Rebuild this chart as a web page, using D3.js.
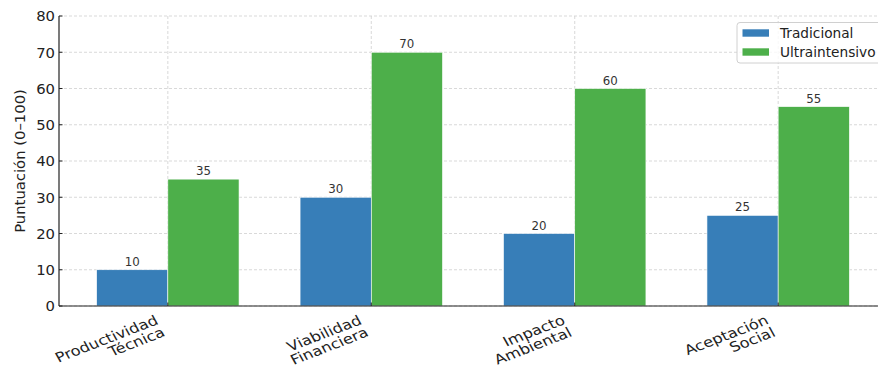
<!DOCTYPE html>
<html><head><meta charset="utf-8">
<script src="https://cdn.jsdelivr.net/npm/d3@7"></script>
<style>body{margin:0;background:#fff}svg{display:block}text{font-family:"DejaVu Sans",sans-serif}</style>
</head><body><svg id="c" width="878" height="367"></svg>
<script>
const categories = ["Productividad\nTécnica","Viabilidad\nFinanciera","Impacto\nAmbiental","Aceptación\nSocial"];
const seriesNames = ["Tradicional","Ultraintensivo"];
const tradicional = [10,30,20,25];
const ultraintensivo = [35,70,60,55];
const yTicks = [0,10,20,30,40,50,60,70,80];
const colors = ["#377eb8","#4daf4a"];
const yLabel = "Puntuación (0–100)";

const svg = d3.select("#c");
const L=59, R=887, T=16, B=306;
const x = d3.scaleLinear().domain([-0.535,3.535]).range([L,R]);
const y = d3.scaleLinear().domain([0,80]).range([B,T]);
const bw = x(0.35)-x(0);

// grid
const g = svg.append("g");
g.selectAll("line.h").data(yTicks).join("line")
 .attr("x1",L).attr("x2",R).attr("y1",d=>y(d)).attr("y2",d=>y(d))
 .attr("stroke","#cfcfcf").attr("stroke-width",0.8).attr("stroke-dasharray","3,2");
g.selectAll("line.v").data(categories).join("line")
 .attr("x1",(d,i)=>x(i)).attr("x2",(d,i)=>x(i)).attr("y1",T).attr("y2",B)
 .attr("stroke","#cfcfcf").attr("stroke-width",0.8).attr("stroke-dasharray","3,2");

// bars
const series=[tradicional,ultraintensivo];
series.forEach((vals,s)=>{
  const off = s===0 ? -0.35 : 0;
  svg.append("g").selectAll("rect").data(vals).join("rect")
   .attr("x",(d,i)=>x(i+off)).attr("width",bw)
   .attr("y",d=>y(d)).attr("height",d=>y(0)-y(d))
   .attr("fill",colors[s]).attr("stroke","#ffffff").attr("stroke-width",0.6);
  svg.append("g").selectAll("text").data(vals).join("text")
   .attr("x",(d,i)=>x(i+off)+bw/2).attr("y",d=>y(d)-4)
   .attr("text-anchor","middle").attr("font-size",11.8).attr("fill","#333")
   .text(d=>d);
});

// spines
svg.append("line").attr("x1",L).attr("x2",L).attr("y1",T).attr("y2",B).attr("stroke","#222").attr("stroke-width",1.2);
svg.append("line").attr("x1",L).attr("x2",R).attr("y1",B).attr("y2",B).attr("stroke","#222").attr("stroke-width",1.2);

// y ticks
const yt = svg.append("g");
yt.selectAll("line").data(yTicks).join("line")
 .attr("x1",L).attr("x2",L+3.5).attr("y1",d=>y(d)).attr("y2",d=>y(d)).attr("stroke","#222").attr("stroke-width",1);
yt.selectAll("text").data(yTicks).join("text")
 .attr("x",L-4).attr("y",d=>y(d)).attr("dy","0.36em").attr("text-anchor","end")
 .attr("font-size",14.8).attr("fill","#222").text(d=>d);
// x ticks
svg.append("g").selectAll("line").data(categories).join("line")
 .attr("x1",(d,i)=>x(i)).attr("x2",(d,i)=>x(i)).attr("y1",B).attr("y2",B-3.5).attr("stroke","#222").attr("stroke-width",1);

// x labels: rotated 25deg, right-aligned lines, slight horizontal stretch like the reference
const fs=13.6, k=1.2, sp=fs*0.98, asc=fs*0.93, desc=fs*0.24, ang=25*Math.PI/180;
categories.forEach((c,i)=>{
  const lines=c.split("\n");
  const grp=svg.append("g");
  const t=grp.append("text").attr("text-anchor","end").attr("font-size",fs).attr("fill","#222");
  lines.forEach((ln,j)=>t.append("tspan").attr("x",0).attr("y",asc+j*sp).text(ln));
  let W=0; t.selectAll("tspan").each(function(){W=Math.max(W,this.getComputedTextLength());});
  const H=asc+(lines.length-1)*sp+desc;
  const corners=[[-W,0],[0,0],[0,H],[-W,H]].map(([a,b])=>[k*(a*Math.cos(ang)+b*Math.sin(ang)), -a*Math.sin(ang)+b*Math.cos(ang)]);
  const maxX=d3.max(corners,p=>p[0]), minY=d3.min(corners,p=>p[1]);
  grp.attr("transform",`translate(${x(i)-maxX},${B+6-minY}) scale(${k},1) rotate(-25)`);
});

// y label
svg.append("text").attr("transform",`translate(20,${(T+B)/2}) rotate(-90)`)
 .attr("text-anchor","middle").attr("dy","0.36em").attr("font-size",14.8).attr("fill","#222").text(yLabel);

// legend
const lg=svg.append("g");
lg.append("rect").attr("x",737).attr("y",22.5).attr("width",146).attr("height",40.5).attr("rx",3)
 .attr("fill","#fff").attr("fill-opacity",0.8).attr("stroke","#d0d0d0").attr("stroke-width",1);
seriesNames.forEach((n,j)=>{
  lg.append("rect").attr("x",742.5).attr("y",29.3+j*19).attr("width",26.5).attr("height",7.4).attr("fill",colors[j]);
  lg.append("text").attr("x",780).attr("y",33+j*19).attr("dy","0.36em").attr("font-size",13.7).attr("fill","#222").text(n);
});
</script></body></html>
